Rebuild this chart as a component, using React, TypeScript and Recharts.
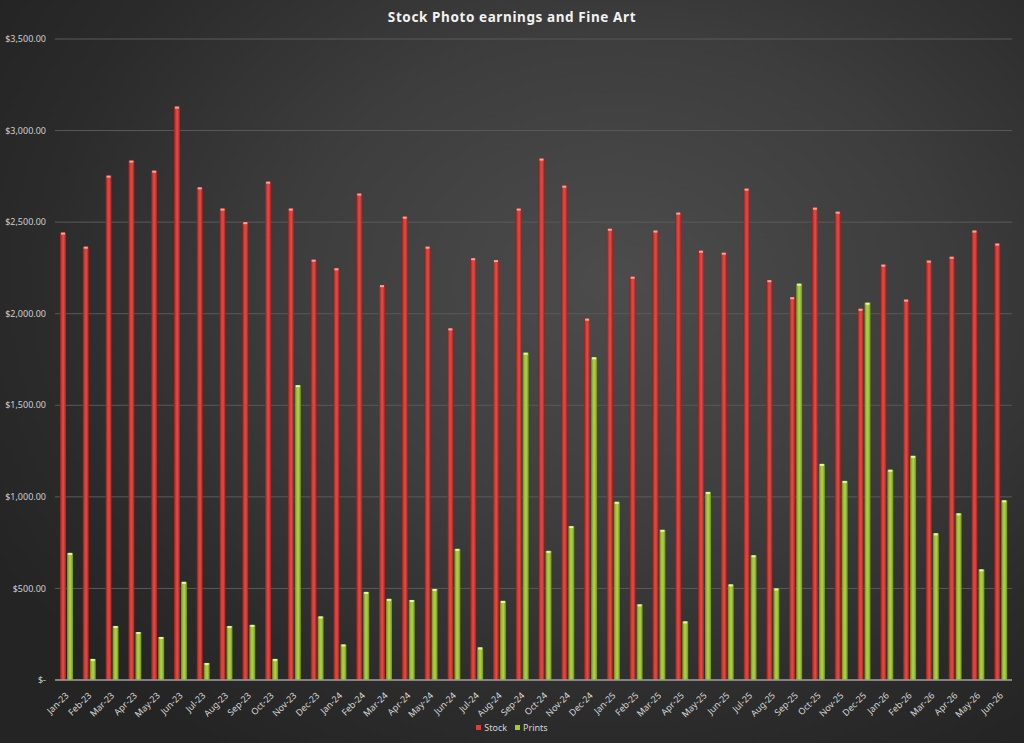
import { BarChart, Bar, XAxis, YAxis, CartesianGrid } from 'recharts';

const months = [
  'Jan-23', 'Feb-23', 'Mar-23', 'Apr-23', 'May-23', 'Jun-23', 'Jul-23', 'Aug-23', 'Sep-23', 'Oct-23', 'Nov-23', 'Dec-23',
  'Jan-24', 'Feb-24', 'Mar-24', 'Apr-24', 'May-24', 'Jun-24', 'Jul-24', 'Aug-24', 'Sep-24', 'Oct-24', 'Nov-24', 'Dec-24',
  'Jan-25', 'Feb-25', 'Mar-25', 'Apr-25', 'May-25', 'Jun-25', 'Jul-25', 'Aug-25', 'Sep-25', 'Oct-25', 'Nov-25', 'Dec-25',
  'Jan-26', 'Feb-26', 'Mar-26', 'Apr-26', 'May-26', 'Jun-26',
];

const stock = [
  2443, 2366, 2754, 2836, 2781, 3131, 2690, 2574, 2500, 2721, 2574, 2295,
  2248, 2656, 2156, 2530, 2366, 1920, 2303, 2293, 2574, 2847, 2699, 1973,
  2464, 2202, 2454, 2552, 2344, 2333, 2683, 2183, 2090, 2579, 2557, 2027,
  2268, 2077, 2290, 2311, 2454, 2383,
];

const prints = [
  694, 115, 295, 262, 235, 536, 93, 295, 301, 115, 1610, 347,
  194, 481, 443, 437, 497, 716, 178, 432, 1787, 705, 840, 1762,
  973, 413, 820, 320, 1027, 522, 681, 500, 2164, 1180, 1087, 2060,
  1148, 1224, 801, 910, 604, 981,
];

const yTicks = [0, 500, 1000, 1500, 2000, 2500, 3000, 3500];

const data = months.map((month, i) => ({ month, stock: stock[i], prints: prints[i] }));

const labelFont = '"Noto Sans", "Open Sans", sans-serif';

const money = (v: number) =>
  v === 0 ? '$-' : '$' + v.toLocaleString('en-US', { minimumFractionDigits: 2, maximumFractionDigits: 2 });

// bar body with a shaded gradient and a pale cap on top
const cylinder = (grad: string, cap: string) => (props: any) => {
  const { x, y, width, height } = props;
  if (!height || height <= 0) return null;
  return (
    <g>
      <rect x={x} y={y} width={width} height={height} fill={`url(#${grad})`} />
      <rect x={x + 1} y={y} width={Math.max(width - 2, 1)} height={2} fill={cap} />
    </g>
  );
};

const MonthTick = (props: any) => {
  const { x, y, payload } = props;
  return (
    <text
      x={x + 3}
      y={y + 8}
      transform={`rotate(-45, ${x + 3}, ${y + 8})`}
      textAnchor="end"
      fontSize={9}
      fontFamily={labelFont}
      fill="#d6d6d6"
    >
      {payload.value}
    </text>
  );
};

export default function App() {
  return (
    <div
      style={{
        position: 'absolute',
        left: 0,
        top: 0,
        width: 1024,
        height: 743,
        background: 'radial-gradient(ellipse 70% 75% at 60% 38%, #4c4c4c 0%, #3d3d3d 45%, #2b2b2b 80%, #242424 100%)',
        overflow: 'hidden',
      }}
    >
      <div
        style={{
          position: 'absolute',
          top: 8,
          left: 0,
          width: 1024,
          textAlign: 'center',
          color: '#f2f2f2',
          fontFamily: labelFont,
          fontWeight: 700,
          fontSize: 13.5,
          letterSpacing: 0.6,
        }}
      >
        Stock Photo earnings and Fine Art
      </div>

      <BarChart
        width={1024}
        height={743}
        data={data}
        margin={{ top: 39, right: 12, left: 0, bottom: 0 }}
        barGap={1}
        barCategoryGap={0}
      >
        <defs>
          <linearGradient id="redBar" x1="0" y1="0" x2="1" y2="0">
            <stop offset="0%" stopColor="#8f1c1a" />
            <stop offset="35%" stopColor="#d9403a" />
            <stop offset="60%" stopColor="#e04a43" />
            <stop offset="100%" stopColor="#9a211e" />
          </linearGradient>
          <linearGradient id="greenBar" x1="0" y1="0" x2="1" y2="0">
            <stop offset="0%" stopColor="#6b8a1c" />
            <stop offset="35%" stopColor="#a3c83a" />
            <stop offset="60%" stopColor="#acd044" />
            <stop offset="100%" stopColor="#6f8f20" />
          </linearGradient>
        </defs>
        <CartesianGrid vertical={false} stroke="#5a5a5a" strokeWidth={1} />
        <XAxis
          dataKey="month"
          interval={0}
          tickLine={false}
          axisLine={{ stroke: '#9a9a9a', strokeWidth: 1.5 }}
          height={63}
          tick={<MonthTick />}
        />
        <YAxis
          domain={[0, 3500]}
          ticks={yTicks}
          width={55}
          axisLine={false}
          tickLine={false}
          tickSize={0}
          tickMargin={9}
          tickFormatter={money}
          tick={{ fontSize: 9, fill: '#cfcfcf', fontFamily: labelFont }}
        />
        <Bar
          dataKey="stock"
          name="Stock"
          barSize={6}
          shape={cylinder('redBar', '#f3a3a0')}
          isAnimationActive={false}
        />
        <Bar
          dataKey="prints"
          name="Prints"
          barSize={6}
          shape={cylinder('greenBar', '#e6f5a8')}
          isAnimationActive={false}
        />
      </BarChart>

      <div
        style={{
          position: 'absolute',
          top: 721,
          left: 0,
          width: 1024,
          display: 'flex',
          justifyContent: 'center',
          gap: 8,
          fontFamily: labelFont,
          fontSize: 9,
          color: '#d6d6d6',
        }}
      >
        <span style={{ display: 'flex', alignItems: 'center', gap: 3 }}>
          <span style={{ width: 5, height: 5, background: '#d9403a', display: 'inline-block' }} />
          Stock
        </span>
        <span style={{ display: 'flex', alignItems: 'center', gap: 3 }}>
          <span style={{ width: 5, height: 5, background: '#a3c83a', display: 'inline-block' }} />
          Prints
        </span>
      </div>
    </div>
  );
}
